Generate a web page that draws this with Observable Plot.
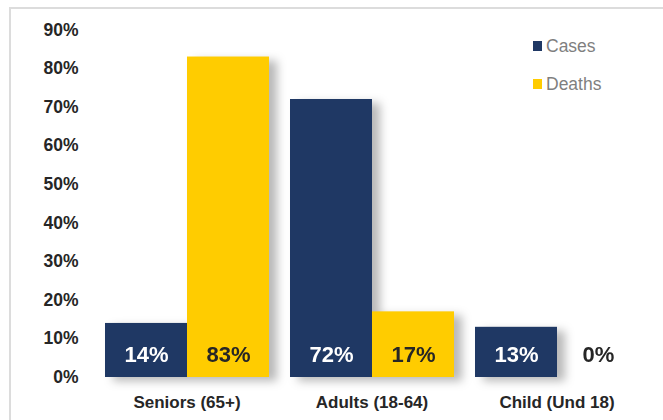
<!DOCTYPE html>
<html>
<head>
<meta charset="utf-8">
<script src="https://cdn.jsdelivr.net/npm/d3@7"></script>
<script src="https://cdn.jsdelivr.net/npm/@observablehq/plot@0.6"></script>
<style>
  html, body { margin: 0; padding: 0; background: #fff; }
  #wrap { position: relative; width: 663px; height: 420px; overflow: hidden; font-family: "Liberation Sans", Arial, sans-serif; }
  #border { position: absolute; left: 9px; top: 7px; width: 700px; height: 500px; border-left: 2px solid #dcdcdc; border-top: 2px solid #dcdcdc; box-sizing: border-box; }
  #chart { position: absolute; left: 0; top: 0; }
  #chart g[aria-label="bar"] { filter: drop-shadow(8px 4px 5px rgba(0,0,0,0.28)); }
  .legend { position: absolute; left: 533px; font-size: 17.5px; color: #7f7f7f; line-height: 1; }
  .legend .sw { display: inline-block; width: 9px; height: 10px; margin-right: 4px; vertical-align: 1px; }
</style>
</head>
<body>
<div id="wrap">
  <div id="border"></div>
  <div id="chart"></div>
</div>
<script>
const groups = ["Seniors (65+)", "Adults (18-64)", "Child (Und 18)"];
const series = ["Cases", "Deaths"];
const cases = [14, 72, 13];
const deaths = [83, 17, 0];
const yTicks = [0, 10, 20, 30, 40, 50, 60, 70, 80, 90];
const colors = ["#1f3864", "#ffcc00"];

const data = [];
groups.forEach((g, i) => {
  data.push({group: g, series: "Cases", value: cases[i]});
  data.push({group: g, series: "Deaths", value: deaths[i]});
});

const plot = Plot.plot({
  width: 663,
  height: 420,
  marginLeft: 94,
  marginRight: 14,
  marginTop: 29.5,
  marginBottom: 43,
  style: {fontFamily: "'Liberation Sans', Arial, sans-serif", background: "transparent"},
  fx: {domain: groups, paddingInner: 0.108, paddingOuter: 0.054, label: null},
  x: {domain: series, padding: 0, axis: null},
  y: {domain: [0, 90], label: null},
  color: {domain: series, range: colors},
  marks: [
    Plot.axisY({ticks: yTicks, tickFormat: d => d + "%", tickSize: 0, tickPadding: 26, fontSize: 17.5, fontWeight: "bold", fill: "#262626", label: null}),
    Plot.axisFx({anchor: "bottom", tickSize: 0, tickPadding: 18, fontSize: 17, fontWeight: "bold", fill: "#262626", label: null}),
    Plot.barY(data, {fx: "group", x: "series", y: "value", fill: "series", insetLeft: 0, insetRight: 0}),
    Plot.text(data.filter(d => d.series === "Cases"), {fx: "group", x: "series", text: d => d.value + "%", frameAnchor: "bottom", lineAnchor: "middle", dy: -23, fill: "white", fontSize: 22, fontWeight: "bold"}),
    Plot.text(data.filter(d => d.series === "Deaths"), {fx: "group", x: "series", text: d => d.value + "%", frameAnchor: "bottom", lineAnchor: "middle", dy: -23, fill: "#262626", fontSize: 22, fontWeight: "bold"})
  ]
});
document.getElementById("chart").appendChild(plot);

const wrap = document.getElementById("wrap");
series.forEach((s, i) => {
  const el = document.createElement("div");
  el.className = "legend";
  el.style.top = (i === 0 ? 38 : 76) + "px";
  el.innerHTML = `<span class="sw" style="background:${colors[i]}"></span>${s}`;
  wrap.appendChild(el);
});
</script>
</body>
</html>
